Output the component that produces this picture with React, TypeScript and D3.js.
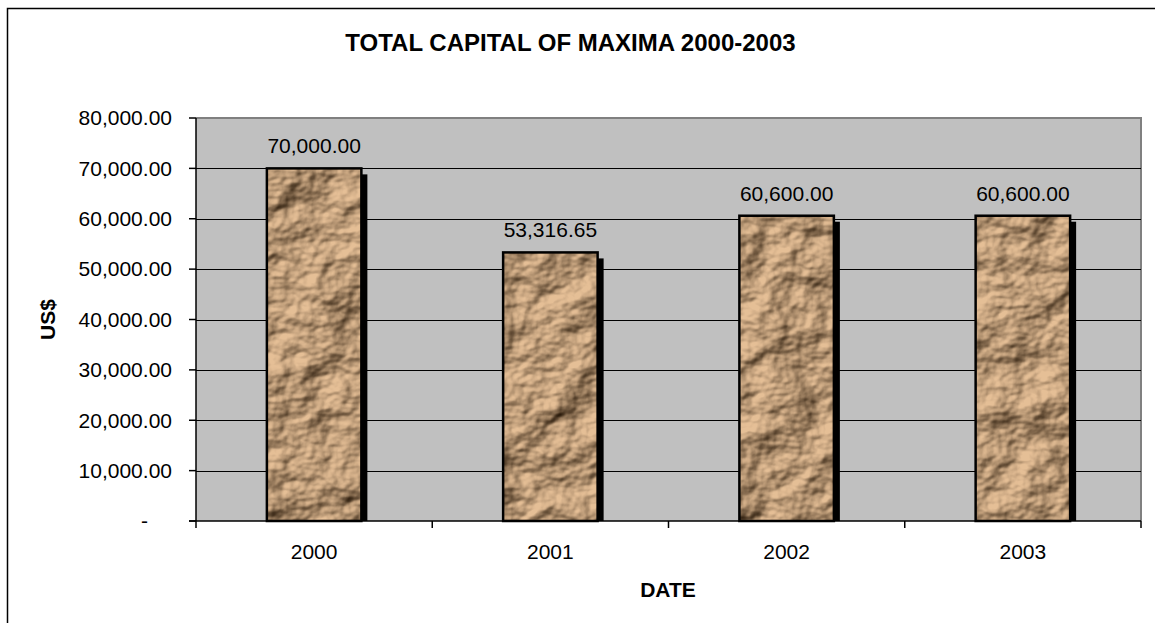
import React from "react";
import * as d3 from "d3";

const years = ["2000", "2001", "2002", "2003"];
const capital = [70000, 53316.65, 60600, 60600];
const yTicks = [0, 10000, 20000, 30000, 40000, 50000, 60000, 70000, 80000];
const title = "TOTAL CAPITAL OF MAXIMA 2000-2003";
const xTitle = "DATE";
const yTitle = "US$";

const W = 1155;
const H = 623;
const FONT = "'Liberation Sans', Arial, sans-serif";

export default function App() {
  const left = 196, right = 1141, top = 118, bottom = 521;
  const x = d3.scaleBand<string>().domain(years).range([left, right]).paddingInner(0.6).paddingOuter(0.3);
  const y = d3.scaleLinear().domain([0, 80000]).range([bottom, top]);
  const fmt = d3.format(",.2f");
  const step = (right - left) / years.length;
  const shadow = 6;

  return (
    <svg width={W} height={H} style={{ position: "absolute", left: 0, top: 0, background: "#fff" }}>
      <defs>
        <filter id="crumple" filterUnits="userSpaceOnUse" x={0} y={0} width={W} height={H} colorInterpolationFilters="sRGB">
          <feTurbulence type="fractalNoise" baseFrequency="0.02 0.026" numOctaves={4} seed={11} result="noise" />
          <feDiffuseLighting in="noise" surfaceScale={10} diffuseConstant={1.05} lightingColor="#ffffff" result="light">
            <feDistantLight azimuth={225} elevation={48} />
          </feDiffuseLighting>
          <feGaussianBlur in="light" stdDeviation={0.6} result="soft" />
          <feComponentTransfer in="soft" result="col">
            <feFuncR type="linear" slope={0.74} intercept={0.16} />
            <feFuncG type="linear" slope={0.65} intercept={0.1} />
            <feFuncB type="linear" slope={0.55} intercept={0.04} />
          </feComponentTransfer>
          <feComposite in="col" in2="SourceAlpha" operator="in" />
        </filter>
      </defs>
      {/* outer frame */}
      <rect x={7.5} y={8.5} width={W + 20} height={H + 20} fill="#fff" stroke="#000" strokeWidth={1.5} />
      {/* title */}
      <text x={570.5} y={51} textAnchor="middle" fontFamily={FONT} fontWeight="bold" fontSize={24} fill="#000">
        {title}
      </text>
      {/* plot area */}
      <rect x={left} y={top} width={right - left} height={bottom - top} fill="#c0c0c0" />
      <path d={`M${left},${top}H${right}V${bottom}`} fill="none" stroke="#808080" strokeWidth={2} />
      {/* gridlines */}
      {yTicks.filter((t) => t > 0 && t < 80000).map((t) => (
        <line key={t} x1={left} x2={right} y1={Math.round(y(t)) + 0.5} y2={Math.round(y(t)) + 0.5} stroke="#000" strokeWidth={1} />
      ))}
      {/* bars */}
      {years.map((yr, i) => {
        const bx = x(yr)!;
        const bw = x.bandwidth();
        const by = y(capital[i]);
        return (
          <g key={yr}>
            <rect x={bx + shadow} y={by + shadow} width={bw} height={bottom - by - shadow} fill="#000" />
            <rect x={bx} y={by} width={bw} height={bottom - by} fill="#a88" filter="url(#crumple)" />
            <rect x={bx} y={by} width={bw} height={bottom - by} fill="none" stroke="#000" strokeWidth={2.5} />
            <text x={bx + bw / 2} y={by - 15} textAnchor="middle" fontFamily={FONT} fontSize={21} fill="#000">
              {fmt(capital[i])}
            </text>
          </g>
        );
      })}
      {/* axes */}
      <line x1={left} x2={left} y1={top} y2={bottom} stroke="#000" strokeWidth={1.5} />
      <line x1={left - 7} x2={right} y1={bottom} y2={bottom} stroke="#000" strokeWidth={1.5} />
      {yTicks.map((t) => (
        <g key={t}>
          <line x1={left - 7} x2={left} y1={y(t)} y2={y(t)} stroke="#000" strokeWidth={1.5} />
          <text
            x={t === 0 ? 148 : 172}
            y={y(t)}
            dy="0.35em"
            textAnchor="end"
            fontFamily={FONT}
            fontSize={21}
            fill="#000"
          >
            {t === 0 ? "-" : fmt(t)}
          </text>
        </g>
      ))}
      {d3.range(years.length + 1).map((k) => (
        <line key={k} x1={left + k * step} x2={left + k * step} y1={bottom} y2={bottom + 7} stroke="#000" strokeWidth={1.5} />
      ))}
      {years.map((yr) => (
        <text key={yr} x={x(yr)! + x.bandwidth() / 2} y={559} textAnchor="middle" fontFamily={FONT} fontSize={21} fill="#000">
          {yr}
        </text>
      ))}
      {/* axis titles */}
      <text x={668} y={597} textAnchor="middle" fontFamily={FONT} fontWeight="bold" fontSize={21} fill="#000">
        {xTitle}
      </text>
      <text
        transform={`translate(55,${(top + bottom) / 2}) rotate(-90)`}
        textAnchor="middle"
        fontFamily={FONT}
        fontWeight="bold"
        fontSize={21}
        fill="#000"
      >
        {yTitle}
      </text>
    </svg>
  );
}
